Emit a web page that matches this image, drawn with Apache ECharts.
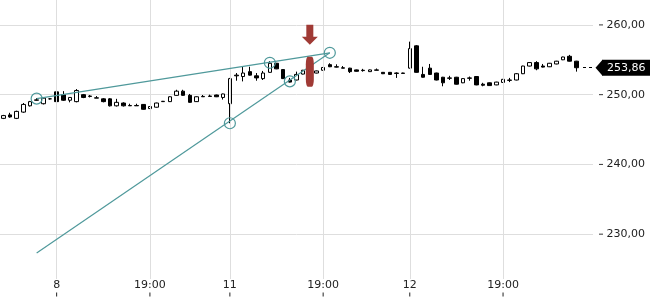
<!DOCTYPE html>
<html><head><meta charset="utf-8">
<script src="https://cdn.jsdelivr.net/npm/echarts@6/dist/echarts.min.js"></script>
<style>html,body{margin:0;padding:0;background:#fff}#c{width:650px;height:300px}</style>
</head><body><div id="c"></div>
<script>
// candles: [open, close, low, high], one per bar
const ohlc = [
  [246.6,247.0,246.5,247.1],[247.1,246.8,246.7,247.4],[246.6,247.6,246.5,247.7],[247.5,248.6,247.4,248.8],
  [248.4,249.0,248.3,249.1],[249.2,249.25,249.15,249.5],[248.7,249.5,248.6,249.6],[249.4,249.4,249.3,249.5],
  [250.4,249.0,248.2,250.5],[250.0,249.2,249.1,250.5],[249.2,249.6,248.9,249.65],[249.0,250.6,248.9,250.8],
  [250.0,249.6,249.5,250.1],[249.8,249.75,249.6,249.95],[249.5,249.55,249.5,249.8],[249.4,249.0,248.9,249.5],
  [249.4,248.4,248.3,249.5],[248.4,248.9,248.3,249.4],[248.8,248.4,248.3,248.9],[248.45,248.4,248.4,248.7],
  [248.45,248.4,248.4,248.7],[248.6,247.9,247.85,248.65],[248.0,248.3,247.95,248.35],[248.2,248.8,248.15,248.85],
  [249.0,249.05,249.0,249.1],[249.0,249.7,248.95,249.75],[249.9,250.5,249.85,250.7],[250.5,249.9,249.85,250.7],
  [249.9,248.9,248.85,250.1],[249.0,249.7,248.95,249.75],[249.75,249.7,249.7,249.95],[249.8,249.75,249.75,250.0],
  [249.95,249.7,249.65,250.0],[249.6,250.1,249.3,250.15],[248.7,252.3,245.9,252.4],[252.8,252.7,252.0,253.1],
  [252.6,253.1,251.9,254.0],[253.3,252.8,252.75,254.0],[252.7,252.4,252.0,253.1],[252.3,253.1,252.1,253.4],
  [253.2,254.5,253.15,254.8],[254.5,253.7,253.65,254.55],[253.6,252.3,252.25,253.65],[252.1,251.8,251.75,252.4],
  [252.1,252.9,252.05,253.3],[252.95,253.5,252.9,253.55],[253.4,253.1,253.05,253.45],[253.1,253.4,253.05,253.45],
  [253.5,253.9,253.45,253.95],[254.3,254.0,253.95,254.5],[254.0,253.95,253.9,254.35],[253.85,253.8,253.8,254.1],
  [253.8,253.3,253.1,253.85],[253.55,253.35,253.3,253.6],[253.5,253.45,253.3,253.7],[253.3,253.55,253.25,253.6],
  [253.55,253.5,253.5,253.75],[253.2,253.0,252.95,253.25],[253.2,252.9,252.85,253.25],[253.1,253.05,252.4,253.2],
  [253.1,253.05,253.0,253.15],[253.8,256.6,253.75,257.6],[257.0,253.2,253.15,257.1],[252.9,252.5,252.45,254.0],
  [253.8,252.9,252.85,254.4],[253.1,252.1,252.05,253.15],[252.5,251.7,251.2,252.55],[252.4,252.35,252.1,252.7],
  [252.5,251.5,251.45,252.55],[251.7,252.3,251.65,252.35],[252.4,252.35,252.0,252.6],[252.6,251.4,251.35,252.65],
  [251.5,251.35,251.2,251.7],[251.7,251.3,251.25,251.75],[251.4,251.8,251.35,251.85],[251.75,252.2,251.7,252.25],
  [252.1,252.05,251.8,252.4],[252.1,253.0,252.05,253.1],[253.0,254.1,252.95,254.15],[254.1,254.6,254.05,254.65],
  [254.6,253.7,253.5,254.8],[254.1,253.95,253.9,254.4],[254.0,254.5,253.95,254.55],[254.4,254.8,254.35,254.85],
  [255.0,255.4,254.95,255.45],[255.5,254.8,254.75,255.7],[254.8,253.86,253.3,254.85]
];
const barSlots = 89;                 // total bar slots on the time axis (last ones empty)
const tickValues = [8, 22, 34, 48, 61, 75];
const tickLabels = ['8', '19:00', '11', '19:00', '12', '19:00'];
const yTickValues = [230, 240, 250, 260];
const yMin = 223.571, yMax = 263.571;
const trendA = [[5, 249.43], [49, 256.0]];
const trendB = [[5, 227.3], [49, 256.0]];
const anchorPoints = [[5, 249.43], [40, 254.57], [49, 256.0], [34, 245.9], [43, 251.9]];
const signalBar = [[46, 253.3]];
const signalArrow = [[46, 258.6]];

const FONT = 'DejaVu Sans';
const TEAL = '#4f999b';
const RED = '#a03a35';
const lastIndex = ohlc.length - 1;
const lastClose = ohlc[lastIndex][1];
const fmt = v => v.toFixed(2).replace('.', ',');
const candleData = ohlc.map((d, i) => [i, d[0], d[1], d[2], d[3]]);
const xMin = -0.5, xMax = barSlots - 0.5;

const chart = echarts.init(document.getElementById('c'));
chart.setOption({
  animation: false,
  textStyle: { fontFamily: FONT },
  grid: { left: 0, right: 57, top: 0, bottom: 20 },
  xAxis: {
    type: 'value', min: xMin, max: xMax, axisLine: { show: false }, axisTick: { show: false },
    splitLine: { show: false },
    axisLabel: {
      customValues: tickValues,
      formatter: v => { const k = tickValues.indexOf(v); return k < 0 ? '' : tickLabels[k] + '\n{t| }'; },
      margin: 1, color: '#222', fontSize: 11, lineHeight: 11, fontFamily: FONT,
      rich: { t: { width: 1, height: 4, lineHeight: 7, backgroundColor: '#222' } }
    }
  },
  yAxis: {
    type: 'value', position: 'right', min: yMin, max: yMax,
    axisLine: { show: false }, axisTick: { show: false },
    splitLine: { show: true, showMinLine: false, showMaxLine: false, lineStyle: { color: '#dedede' } },
    axisLabel: {
      customValues: yTickValues, formatter: v => '{t| } ' + fmt(v), margin: 6,
      color: '#222', fontSize: 11, fontFamily: FONT,
      rich: { t: { width: 4, height: 1, backgroundColor: '#333' } }
    }
  },
  series: [
    { type: 'line', data: [], z: 0, silent: true,
      markLine: { silent: true, symbol: ['none', 'none'], label: { show: false },
        lineStyle: { color: '#dedede', type: 'solid', width: 1 },
        data: tickValues.map(v => ({ xAxis: v })) } },
    { type: 'candlestick', data: candleData, barWidth: 4, z: 3, clip: false,
      itemStyle: { color: '#fff', color0: '#000', borderColor: '#000', borderColor0: '#000', borderColorDoji: '#000', borderWidth: 1 } },
    { type: 'line', data: trendA, symbol: 'none', z: 5, silent: true, lineStyle: { color: TEAL, width: 1.2 } },
    { type: 'line', data: trendB, symbol: 'none', z: 5, silent: true, lineStyle: { color: TEAL, width: 1.2 } },
    { type: 'scatter', data: anchorPoints, symbol: 'circle', symbolSize: 11, z: 6, silent: true,
      itemStyle: { color: 'rgba(255,255,255,0)', borderColor: TEAL, borderWidth: 1.2, opacity: 1 } },
    { type: 'scatter', data: signalBar, symbol: 'roundRect', symbolSize: [8, 30], z: 7, silent: true,
      itemStyle: { color: RED, opacity: 1 } },
    { type: 'scatter', data: signalArrow, symbol: 'path://M4.5,0 L11.5,0 L11.5,12 L16,12 L8,20 L0,12 L4.5,12 Z',
      symbolSize: [16, 20], z: 7, silent: true, itemStyle: { color: RED, opacity: 1 } },
    { type: 'line', data: [], z: 8, silent: true, clip: false,
      markLine: { silent: true, symbol: ['none', 'none'],
        lineStyle: { color: '#000', type: [3, 3], width: 1 },
        label: { show: true, position: 'end', distance: 9, formatter: fmt(lastClose), color: '#fff',
          backgroundColor: '#000', padding: [2, 5], fontSize: 11, lineHeight: 12, fontFamily: FONT },
        data: [[{ coord: [lastIndex + 1, lastClose] }, { coord: [xMax, lastClose] }]] } },
    { type: 'scatter', data: [[xMax, lastClose]], symbol: 'path://M0,8 L7,0 L7,16 Z', symbolSize: [7, 16],
      symbolOffset: [6, 0], z: 9, clip: false, silent: true, itemStyle: { color: '#000', opacity: 1 } }
  ]
});
</script></body></html>
